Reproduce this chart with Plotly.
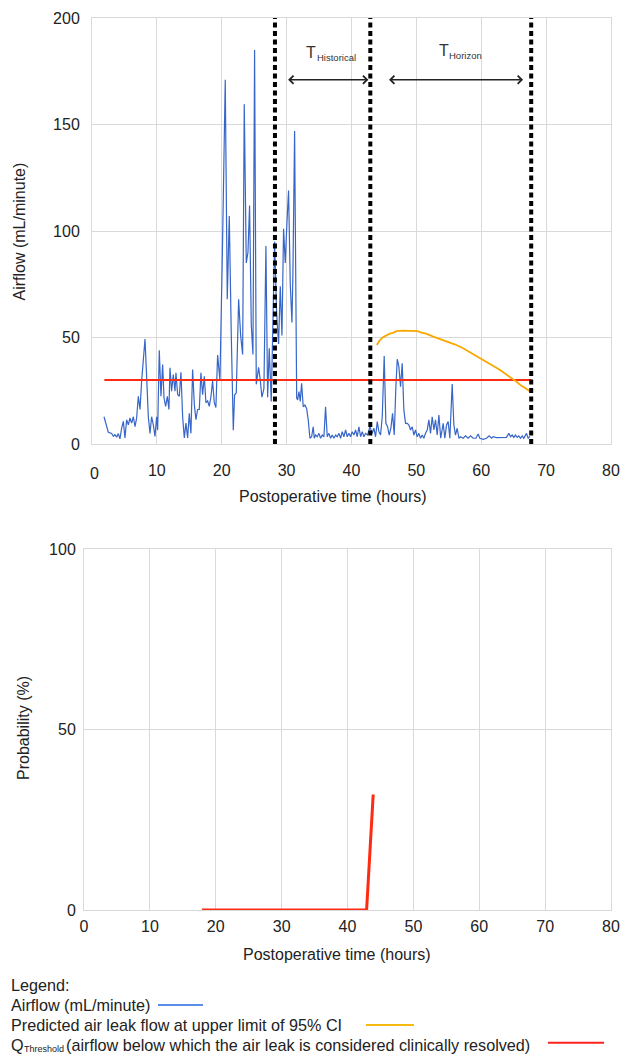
import plotly.graph_objects as go

# ---------------- data ----------------
airflow_t = [1.85, 2.26, 2.52, 3.03, 3.29, 3.54, 3.80, 4.06, 4.31, 4.57, 4.83, 5.08, 5.34, 5.60, 5.85,
             6.11, 6.37, 6.63, 6.88, 7.14, 7.40, 7.65, 8.17, 8.42, 8.68, 8.94, 9.19, 9.45, 9.71, 9.96,
             10.12, 10.37, 10.63, 10.89, 11.10, 11.35, 11.61, 11.86, 12.02, 12.27, 12.53, 12.79, 12.94,
             13.20, 13.46, 13.71, 13.97, 14.23, 14.48, 14.74, 15.00, 15.25, 15.51, 15.77, 16.02, 16.28,
             16.54, 16.79, 17.05, 17.31, 17.56, 17.82, 18.08, 18.34, 18.59, 18.85, 19.10, 19.36, 19.72,
             20.10, 20.54, 20.85, 21.16, 21.47, 21.78, 21.98, 22.24, 22.60, 22.91, 23.22, 23.47, 23.78,
             24.04, 24.29, 24.55, 24.81, 25.06, 25.32, 25.68, 25.94, 26.19, 26.50, 26.81, 27.07, 27.32,
             27.63, 27.89, 28.15, 28.45, 28.76, 29.02, 29.28, 29.53, 29.79, 30.05, 30.30, 30.56, 30.82,
             30.97, 31.23, 31.55, 31.70, 31.90, 32.10, 32.31, 32.56, 32.82, 33.08, 33.33, 33.59, 33.85,
             34.10, 34.26, 34.46, 34.72, 34.98, 35.23, 35.49, 35.75, 36.00, 36.26, 36.52, 36.78, 37.03,
             37.29, 37.55, 37.80, 38.06, 38.32, 38.57, 38.83, 39.09, 39.34, 39.60, 39.86, 40.11, 40.37,
             40.63, 40.88, 41.14, 41.40, 41.66, 41.91, 42.17, 42.48, 42.84, 43.20, 43.45, 43.71, 43.97,
             44.22, 44.48, 44.74, 45.04, 45.30, 45.56, 45.81, 46.07, 46.33, 46.59, 46.84, 47.05, 47.30,
             47.56, 47.82, 48.07, 48.33, 48.59, 48.85, 49.10, 49.36, 49.62, 49.87, 50.13, 50.39, 50.64,
             50.90, 51.16, 51.41, 51.67, 51.93, 52.18, 52.44, 52.70, 52.95, 53.21, 53.47, 53.75, 54.13,
             54.39, 54.65, 54.90, 55.16, 55.52, 55.78, 56.03, 56.29, 56.55, 56.80, 57.22, 57.57, 57.99,
             58.35, 58.76, 59.17, 59.53, 59.78, 60.30, 60.81, 61.22, 61.58, 61.84, 62.35, 62.86, 63.38,
             63.89, 64.25, 64.51, 64.77, 65.02, 65.28, 65.54, 65.79, 66.05, 66.31, 66.56, 66.97, 67.23,
             67.50]
airflow_v = [12.8, 9.0, 5.5, 4.9, 3.6, 4.4, 3.2, 4.9, 2.4, 7.5, 10.6, 2.8, 11.4, 9.0, 12.2,
             9.8, 12.8, 8.2, 12.2, 22.4, 16.2, 29.5, 49.3, 31.8, 12.8, 5.0, 12.8, 9.0, 3.6, 12.8,
             6.5, 44.0, 22.4, 37.3, 21.6, 17.7, 22.4, 16.2, 35.8, 24.8, 32.6, 24.8, 33.4,
             23.2, 22.4, 33.7, 12.8, 2.8, 9.8, 2.8, 14.4, 5.0, 35.0, 18.6, 11.4, 16.2,
             16.2, 33.4, 23.2, 31.8, 19.4, 20.2, 17.7, 22.4, 29.5, 19.4, 17.1, 41.8, 30.0,
             90.0, 171.0, 68.0, 107.0, 51.0, 6.5, 23.0, 24.0, 68.0, 51.0, 42.0, 159.5, 85.0,
             90.0, 112.0, 56.0, 42.0, 185.0, 28.0, 36.0, 30.0, 22.0, 26.0, 93.0, 22.0, 45.0,
             20.0, 55.0, 95.0, 62.0, 47.0, 74.0, 51.0, 101.0, 85.0, 104.0, 119.0, 75.0, 57.0,
             80.0, 147.0, 21.5, 20.7, 24.6, 20.0, 28.5, 17.5, 18.3, 16.7, 11.3, 2.7, 3.4,
             8.1, 2.7, 4.2, 3.4, 5.0, 2.7, 4.2, 3.4, 17.5, 3.4, 5.0, 2.7, 4.2,
             2.7, 4.2, 3.4, 5.0, 2.7, 5.8, 3.4, 6.6, 3.4, 5.0, 3.4, 5.8, 4.2,
             6.6, 3.4, 8.1, 3.4, 5.8, 3.4, 5.0, 4.2, 8.1, 5.0, 7.4, 3.4, 10.5,
             5.8, 4.2, 12.8, 41.3, 9.7, 8.1, 4.2, 7.4, 14.4, 4.2, 26.9, 39.8, 36.3,
             26.9, 37.9, 16.0, 9.7, 9.7, 8.9, 6.6, 8.1, 4.2, 6.6, 3.4, 5.0, 2.7,
             4.2, 2.7, 5.0, 6.6, 11.3, 5.0, 12.8, 6.6, 11.3, 4.2, 13.6, 2.7, 9.7,
             2.7, 8.9, 10.5, 2.7, 28.2, 8.9, 4.2, 7.4, 2.7, 3.4, 2.7, 3.8, 2.7,
             3.8, 2.7, 2.7, 4.7, 2.7, 2.2, 2.7, 3.8, 2.7, 3.4, 3.0, 3.1, 3.0,
             3.1, 5.0, 3.4, 4.2, 3.1, 4.2, 3.1, 3.8, 2.7, 3.8, 2.7, 5.0, 2.7,
             3.5]

predicted_t = [43.9, 44.3, 44.8, 45.3, 45.9, 46.4, 46.9, 48.0, 49.0, 50.2, 50.8, 51.5, 52.6, 53.5,
               54.3, 55.0, 56.0, 57.0, 57.7, 58.5, 59.3, 60.0, 61.0, 62.0, 62.9, 63.7, 64.6, 65.4,
               66.2, 67.0, 67.6]
predicted_v = [46.5, 48.5, 50.0, 51.0, 51.8, 52.2, 53.0, 53.2, 53.2, 53.0, 52.3, 51.8, 50.4, 49.4,
               48.6, 47.9, 46.7, 45.3, 44.1, 42.8, 41.4, 40.0, 38.2, 36.4, 34.7, 32.8, 31.0, 29.3,
               27.3, 25.8, 24.5]

threshold_t = [1.9, 67.7]
threshold_value = 30

marker_times = [28.2, 42.9, 67.7]          # dotted vertical lines
historical_span = [30.0, 42.6]             # T Historical arrow
horizon_span = [45.55, 66.45]              # T Horizon arrow
arrow_level = 171

probability_t = [17.9, 42.9, 43.9]
probability_v = [0, 0, 32]

x_ticks = [0, 10, 20, 30, 40, 50, 60, 70, 80]
y1_ticks = [0, 50, 100, 150, 200]
y2_ticks = [0, 50, 100]

# ---------------- helpers ----------------
W, H = 621, 1056
FONT = "Liberation Sans, Arial, Helvetica, sans-serif"


def px_x(p):
    return p / W


def px_y(p):
    return 1 - p / H


BLUE = "#3766c8"
ORANGE = "#f9a800"
RED = "#ff2a12"
GRID = "#d9d9d9"
TXT = "#222222"

fig = go.Figure()

fig.add_trace(go.Scatter(x=airflow_t, y=airflow_v, mode="lines",
                         line=dict(color=BLUE, width=1.2), xaxis="x", yaxis="y",
                         name="Airflow (mL/minute)"))
fig.add_trace(go.Scatter(x=threshold_t, y=[threshold_value] * len(threshold_t), mode="lines",
                         line=dict(color=RED, width=2), xaxis="x", yaxis="y",
                         name="QThreshold"))
fig.add_trace(go.Scatter(x=predicted_t, y=predicted_v, mode="lines",
                         line=dict(color=ORANGE, width=1.8), xaxis="x", yaxis="y",
                         name="Predicted air leak flow at upper limit of 95% CI"))
for t in marker_times:
    fig.add_trace(go.Scatter(x=[t, t], y=[y1_ticks[0], y1_ticks[-1]], mode="lines",
                             line=dict(color="black", width=4, dash="5px,3.5px"),
                             xaxis="x", yaxis="y", showlegend=False))

fig.add_trace(go.Scatter(x=probability_t, y=probability_v, mode="lines",
                         line=dict(color=RED, width=3), xaxis="x2", yaxis="y2",
                         name="Probability"))

# top x tick labels (10..80): a text row on the top chart's x scale, in a thin strip below the axis
top_labels = [v for v in x_ticks if v != 0]
fig.add_trace(go.Scatter(x=top_labels, y=[0] * len(top_labels), mode="text",
                         text=[str(v) for v in top_labels], textposition="middle center",
                         textfont=dict(family=FONT, size=16, color=TXT), cliponaxis=False,
                         xaxis="x3", yaxis="y3", hoverinfo="skip"))

axis_common = dict(showgrid=True, gridcolor=GRID, gridwidth=1, showline=True, linecolor=GRID,
                   linewidth=1, mirror=True, zeroline=False, ticks="", automargin=False,
                   ticklabeloverflow="allow",
                   tickfont=dict(family=FONT, size=16, color=TXT))

fig.update_layout(
    width=W, height=H,
    margin=dict(l=0, r=0, t=0, b=0, pad=0, autoexpand=False),
    paper_bgcolor="white", plot_bgcolor="rgba(0,0,0,0)",
    showlegend=False,
    font=dict(family=FONT, size=16, color=TXT),
    xaxis=dict(domain=[px_x(92), px_x(611)], range=[0, 80], tickvals=x_ticks, anchor="y",
               showticklabels=False, **axis_common),
    yaxis=dict(domain=[px_y(444), px_y(18)], range=[0, 200], tickvals=y1_ticks, anchor="x",
               ticklabelstandoff=8, **axis_common),
    xaxis2=dict(domain=[px_x(84), px_x(611)], range=[0, 80], tickvals=x_ticks, anchor="y2",
                ticklabelstandoff=2, **axis_common),
    yaxis2=dict(domain=[px_y(910), px_y(549)], range=[0, 100], tickvals=y2_ticks, anchor="x2",
                ticklabelstandoff=4, **axis_common),
    xaxis3=dict(domain=[px_x(92), px_x(611)], range=[0, 80], anchor="y3", visible=False,
                automargin=False),
    yaxis3=dict(domain=[px_y(482), px_y(462)], range=[-1, 1], anchor="x3", visible=False,
                automargin=False),
)

ann = []
# arrows
for span in (historical_span, horizon_span):
    ann.append(dict(x=span[1], y=arrow_level, ax=span[0], ay=arrow_level, xref="x", yref="y",
                    axref="x", ayref="y", text="", showarrow=True, arrowhead=4, startarrowhead=4,
                    arrowside="end+start", arrowsize=1, arrowwidth=1.6, arrowcolor="#222"))


def txt(text, x, y, size=16, xanchor="left", angle=0, color=TXT, bg=None):
    d = dict(text=text, x=px_x(x), y=px_y(y), xref="paper", yref="paper",
             xanchor=xanchor, yanchor="middle", showarrow=False, textangle=angle,
             font=dict(family=FONT, size=size, color=color))
    if bg:
        d["bgcolor"] = bg
    ann.append(d)


# T labels
txt("T", 304, 52.5, 16, color="#333")
txt("Historical", 315, 57.6, 9.5, color="#333")
txt("T", 437, 50.2, 16, color="#333")
txt("Horizon", 446.5, 55, 9.5, color="#333")

# axis titles
txt("Airflow (mL/minute)", 18.5, 232, 16, xanchor="center", angle=-90)
txt("Postoperative time (hours)", 332.7, 496.5, 16, xanchor="center")
txt("Probability (%)", 23.5, 728.5, 16, xanchor="center", angle=-90)
txt("Postoperative time (hours)", 337, 954, 16, xanchor="center")

# legend text
LEG = 16.2
txt("Legend:", 9, 985.3, LEG)
txt("Airflow (mL/minute)", 9, 1005.3, LEG)
txt("Predicted air leak flow at upper limit of 95% CI", 9, 1025.3, LEG)
txt("Q", 9, 1045.3, LEG)
txt("Threshold", 22, 1049, 9)
txt("(airflow below which the air leak is considered clinically resolved)", 64, 1045.3, LEG)

# first tick label of the top x axis (origin), drawn last so nothing sits on top of it
txt(str(x_ticks[0]), 94, 473, 16, xanchor="center", bg="white")

fig.update_layout(annotations=ann)

shapes = []
for (x0, x1, y, c) in [(158, 203, 1005, "#5a8ee8"), (366, 414, 1025, "#f6bb10"),
                       (548, 604, 1042.7, "#ff2020")]:
    shapes.append(dict(type="line", xref="paper", yref="paper", x0=px_x(x0), x1=px_x(x1),
                       y0=px_y(y), y1=px_y(y), line=dict(color=c, width=2)))
fig.update_layout(shapes=shapes)

# remove the browser's default page margin so the 621x1056 figure fills the window exactly
page_fix = ("document.documentElement.style.margin='0';document.documentElement.style.padding='0';"
            "document.body.style.margin='0';document.body.style.padding='0';"
            "document.body.style.overflow='hidden';document.documentElement.style.overflow='hidden';")
fig.write_html("out.html", post_script=page_fix, config={"displayModeBar": False})
